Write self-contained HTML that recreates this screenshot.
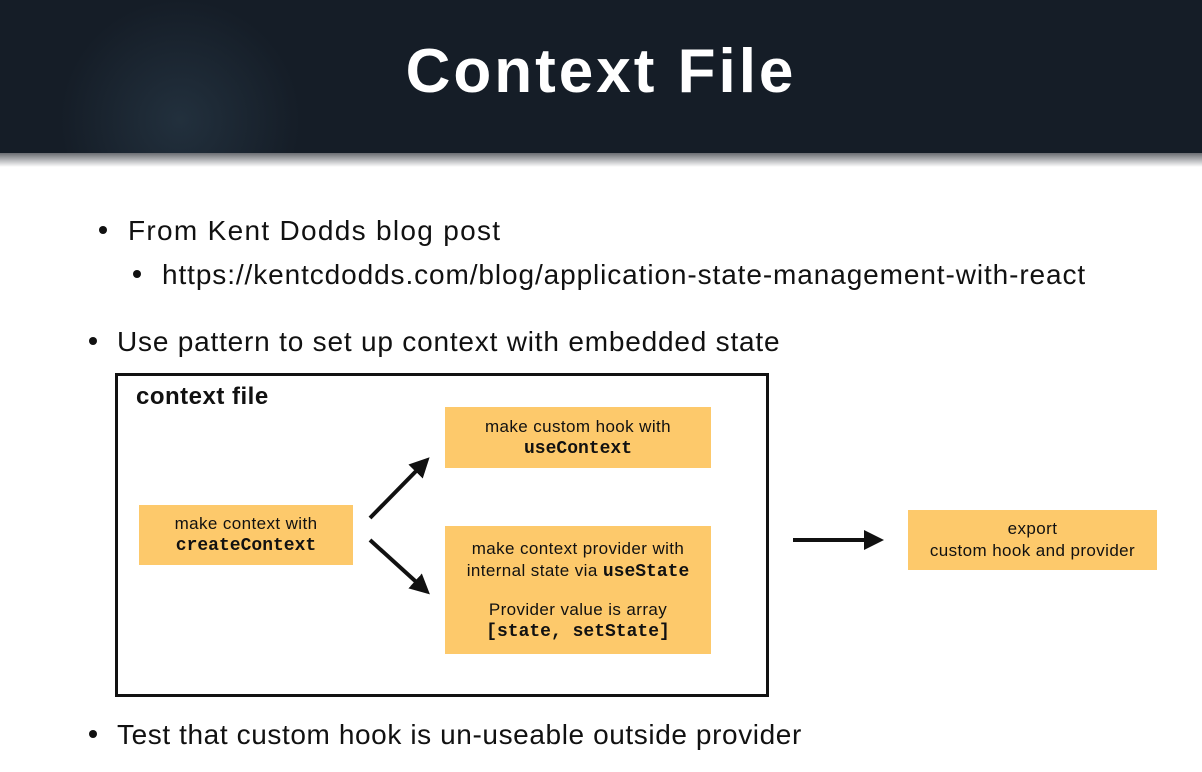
<!DOCTYPE html>
<html><head><meta charset="utf-8"><style>
body{margin:0;width:1202px;height:772px;overflow:hidden;background:#fff;font-family:"Liberation Sans",sans-serif;position:relative}
.hdr{position:absolute;left:0;top:0;width:1202px;height:154px;background:radial-gradient(circle at 180px 120px,#22303d 0,#151d27 120px),#151d27;}
.sh{position:absolute;left:0;top:153px;width:1202px;height:14px;background:linear-gradient(#6a6d72,#fff)}
.t{position:absolute;left:0;width:1202px;top:36px;text-align:center;color:#fff;font-size:62px;font-weight:bold;letter-spacing:3px}
.a{position:absolute;color:#111;font-size:28px;white-space:nowrap;top:0}
.b{position:absolute;width:8px;height:8px;border-radius:50%;background:#111}
.frame{position:absolute;left:115px;top:373px;width:648px;height:318px;border:3px solid #111}
.box{position:absolute;background:#fdc96b;color:#111;font-size:17px;letter-spacing:0.4px;text-align:center;line-height:22px;display:flex;flex-direction:column;justify-content:center}
.m{font-family:"Liberation Mono",monospace;font-weight:bold;font-size:18px;letter-spacing:0}
</style></head><body>
<div class="hdr"></div><div class="sh"></div>
<div class="t">Context File</div>
<div class="b" style="left:99px;top:226px"></div><div class="a" style="left:128px;top:215px;letter-spacing:1.3px">From Kent Dodds blog post</div>
<div class="b" style="left:133px;top:270px"></div><div class="a" style="left:162px;top:259px;letter-spacing:0.9px">https://kentcdodds.com/blog/application-state-management-with-react</div>
<div class="b" style="left:89px;top:337px"></div><div class="a" style="left:117px;top:326px;letter-spacing:0.8px">Use pattern to set up context with embedded state</div>
<div class="b" style="left:89px;top:730px"></div><div class="a" style="left:117px;top:719px;letter-spacing:0.6px">Test that custom hook is un-useable outside provider</div>
<div class="frame"></div>
<div style="position:absolute;left:136px;top:383px;font-size:24px;font-weight:bold;color:#111;letter-spacing:0.5px">context file</div>
<div class="box" style="left:139px;top:505px;width:214px;height:60px"><div>make context with</div><div class="m">createContext</div></div>
<div class="box" style="left:445px;top:407px;width:266px;height:61px"><div>make custom hook with</div><div class="m">useContext</div></div>
<div class="box" style="left:445px;top:526px;width:266px;height:128px"><div>make context provider with</div><div>internal state via <span class="m">useState</span></div><div style="height:16px"></div><div>Provider value is array</div><div class="m">[state, setState]</div></div>
<div class="box" style="left:908px;top:510px;width:249px;height:60px"><div>export</div><div>custom hook and provider</div></div>
<svg style="position:absolute;left:0;top:0" width="1202" height="772">
<defs><marker id="h" markerWidth="5" markerHeight="5" refX="3" refY="2.5" orient="auto"><path d="M0,0L5,2.5L0,5z" fill="#111"/></marker></defs>
<g stroke="#111" stroke-width="4" marker-end="url(#h)">
<line x1="370" y1="518" x2="424" y2="463"/>
<line x1="370" y1="540" x2="424" y2="589"/>
<line x1="793" y1="540" x2="876" y2="540"/>
</g></svg>
</body></html>
